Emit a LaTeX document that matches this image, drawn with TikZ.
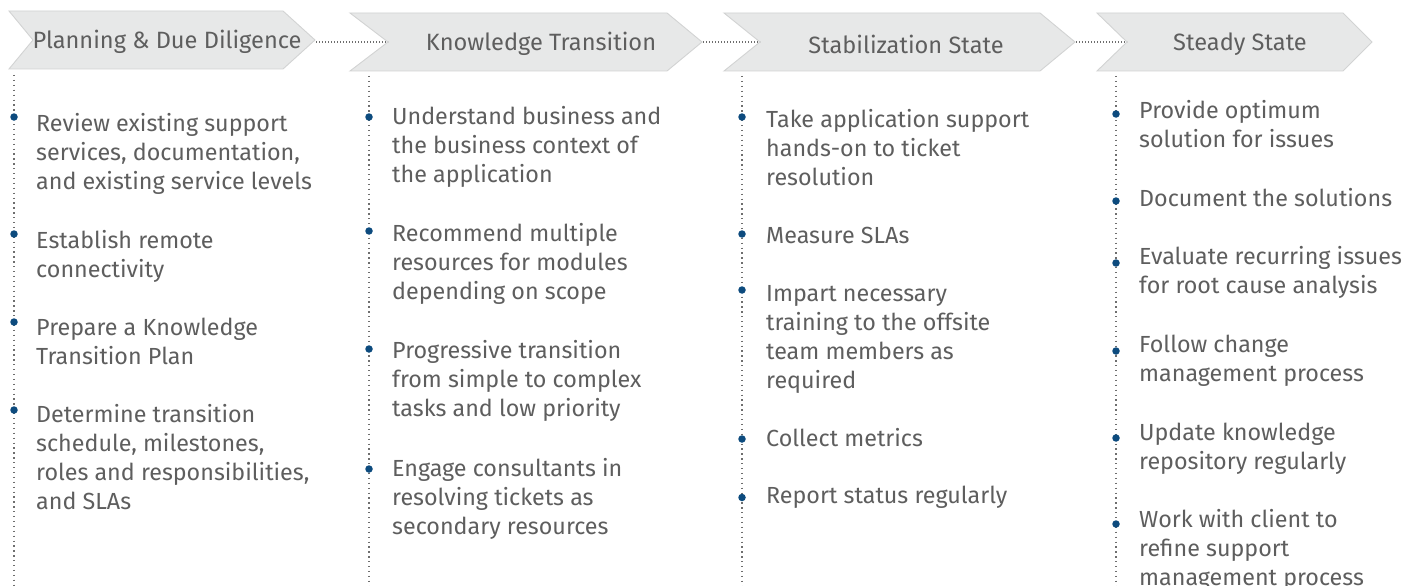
\documentclass[tikz,border=0pt]{standalone}
\usepackage{fontspec}
\setmainfont{Fira Sans}
\definecolor{chevfill}{HTML}{E7E8E8}
\definecolor{chevline}{HTML}{D2D3D3}
\definecolor{txtgray}{HTML}{5E5E5E}
\definecolor{dotgray}{HTML}{6E6E6E}
\definecolor{bulletblue}{HTML}{0D4B7E}
\tikzset{
  chev/.style={fill=chevfill,draw=chevline,line width=0.9pt},
  head/.style={font=\fontsize{23.6}{28}\selectfont,text=txtgray,inner sep=0pt,anchor=center},
  item/.style={font=\fontsize{23.3}{29}\selectfont,text=txtgray,align=left,inner sep=0pt,anchor=north west},
  hlink/.style={draw=dotgray,line width=1.5pt,dash pattern=on 1.3pt off 1.7pt},
  vline/.style={draw=dotgray,line width=1.3pt,dash pattern=on 1.3pt off 3.6pt},
  dotb/.style={circle,fill=bulletblue,inner sep=0pt,minimum size=7.5pt}
}
\newcommand{\itm}[4]{\node[item] (#1) at (#2,#3-20.3) {\strut #4};}
\begin{document}
\begin{tikzpicture}[x=1pt,y=-1pt]
\useasboundingbox[fill=white] (0,0) rectangle (1419,586);
% chevrons
\draw[chev] (9,11) -- (283,11) -- (315,40) -- (283,69) -- (9,69) -- (33,40) -- cycle;
\draw[chev] (350,13) -- (667,13) -- (702,42) -- (667,71) -- (350,71) -- (388,42) -- cycle;
\draw[chev] (724,13) -- (1040,13) -- (1075,42) -- (1040,71) -- (724,71) -- (760,42) -- cycle;
\draw[chev] (1097,13) -- (1343,13) -- (1372,42) -- (1343,71) -- (1097,71) -- (1127,42) -- cycle;
\coordinate (tip1) at (316,42);
\coordinate (notch2) at (388,42);
\coordinate (tip2) at (703,42);
\coordinate (notch3) at (760,42);
\coordinate (tip3) at (1076,42);
\coordinate (notch4) at (1127,42);
\node[head] (h1) at (167,42) {Planning \& Due Diligence};
\node[head] (h2) at (541,44) {Knowledge Transition};
\node[head] (h3) at (906,44) {Stabilization State};
\node[head] (h4) at (1240,44) {Steady State};
\draw[hlink] (tip1) -- (notch2);
\draw[hlink] (tip2) -- (notch3);
\draw[hlink] (tip3) -- (notch4);
% vertical dotted lines
\coordinate (v1t) at (14,75);  \coordinate (v1b) at (14,586);
\coordinate (v2t) at (369,76); \coordinate (v2b) at (369,586);
\coordinate (v3t) at (742,76); \coordinate (v3b) at (742,586);
\coordinate (v4t) at (1116,76); \coordinate (v4b) at (1116,586);
\draw[vline] (v1t) -- (v1b);
\draw[vline] (v2t) -- (v2b);
\draw[vline] (v3t) -- (v3b);
\draw[vline] (v4t) -- (v4b);
% column 1
\node[dotb] (b11) at (14,117) {};
\node[dotb] (b12) at (14,234) {};
\node[dotb] (b13) at (14,322) {};
\node[dotb] (b14) at (14,410) {};
\itm{t11}{36}{131.5}{Review existing support\\services, documentation,\\and existing service levels}
\itm{t12}{36}{248}{Establish remote\\connectivity}
\itm{t13}{36}{335}{Prepare a Knowledge\\Transition Plan}
\itm{t14}{36}{422}{Determine transition\\schedule, milestones,\\roles and responsibilities,\\and SLAs}
% column 2
\node[dotb] (b21) at (369,117) {};
\node[dotb] (b22) at (369,231) {};
\node[dotb] (b23) at (369,349) {};
\node[dotb] (b24) at (369,469) {};
\itm{t21}{392}{124.5}{Understand business and\\the business context of\\the application}
\itm{t22}{392}{241}{Recommend multiple\\resources for modules\\depending on scope}
\itm{t23}{392}{358.5}{Progressive transition\\from simple to complex\\tasks and low priority}
\itm{t24}{392}{476}{Engage consultants in\\resolving tickets as\\secondary resources}
% column 3
\node[dotb] (b31) at (742,117) {};
\node[dotb] (b32) at (742,234) {};
\node[dotb] (b33) at (742,290) {};
\node[dotb] (b34) at (742,439) {};
\node[dotb] (b35) at (742,497.5) {};
\itm{t31}{766}{127}{Take application support\\hands-on to ticket\\resolution}
\itm{t32}{766}{243.5}{Measure SLAs}
\itm{t33}{766}{301.7}{Impart necessary\\training to the offsite\\team members as\\required}
\itm{t34}{766}{446.7}{Collect metrics}
\itm{t35}{766}{503}{Report status regularly}
% column 4
\node[dotb] (b41) at (1116,114) {};
\node[dotb] (b42) at (1116,201) {};
\node[dotb] (b43) at (1116,263) {};
\node[dotb] (b44) at (1116,351) {};
\node[dotb] (b45) at (1116,438) {};
\node[dotb] (b46) at (1116,524) {};
\itm{t41}{1139}{118}{Provide optimum\\solution for issues}
\itm{t42}{1139}{206}{Document the solutions}
\itm{t43}{1139}{264}{Evaluate recurring issues\\for root cause analysis}
\itm{t44}{1139}{352}{Follow change\\management process}
\itm{t45}{1139}{440}{Update knowledge\\repository regularly}
\itm{t46}{1139}{527}{Work with client to\\refine support\\management process}
\end{tikzpicture}
\end{document}
